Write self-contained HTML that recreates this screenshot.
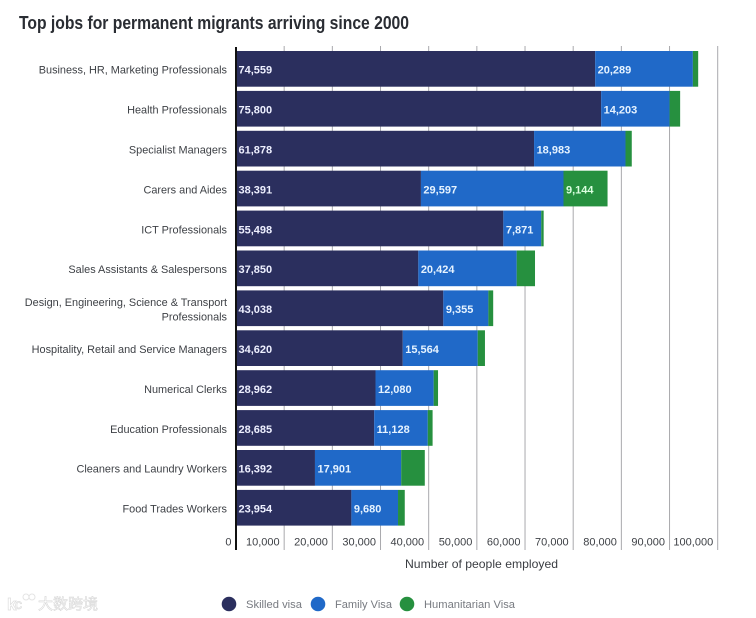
<!DOCTYPE html>
<html lang="en">
<head>
<meta charset="utf-8">
<title>Top jobs for permanent migrants arriving since 2000</title>
<style>
html,body{margin:0;padding:0;background:#fff;}
body{width:756px;height:618px;overflow:hidden;}
svg{display:block;font-family:"Liberation Sans","Noto Sans CJK SC",sans-serif;}
</style>
</head>
<body>
<svg id="chart" width="756" height="618" viewBox="0 0 756 618" xmlns="http://www.w3.org/2000/svg">
  <rect x="0" y="0" width="756" height="618" fill="#ffffff"/>
  <text x="19" y="29" font-size="18" font-weight="700" fill="#2a2d33" textLength="390" lengthAdjust="spacingAndGlyphs">Top jobs for permanent migrants arriving since 2000</text>
  <g id="grid"></g>
  <g id="bars"></g>
  <g id="cats"></g>
  <g id="ticks"></g>
  <line x1="236" y1="47" x2="236" y2="550" stroke="#111111" stroke-width="2"/>
  <text x="405" y="568" font-size="12" fill="#3a3d42" textLength="153" lengthAdjust="spacingAndGlyphs">Number of people employed</text>
  <g>
    <g>
      <circle cx="229" cy="604" r="7.3" fill="#2b2f5e"/>
      <text x="246" y="608" font-size="11" fill="#777a80" textLength="56" lengthAdjust="spacingAndGlyphs">Skilled visa</text>
    </g>
    <g>
      <circle cx="318" cy="604" r="7.3" fill="#2069c8"/>
      <text x="335" y="608" font-size="11" fill="#777a80" textLength="57" lengthAdjust="spacingAndGlyphs">Family Visa</text>
    </g>
    <g>
      <circle cx="407" cy="604" r="7.3" fill="#26903f"/>
      <text x="424" y="608" font-size="11" fill="#777a80" textLength="91" lengthAdjust="spacingAndGlyphs">Humanitarian Visa</text>
    </g>
  </g>
  <g>
    <circle cx="26" cy="597" r="3" fill="none" stroke="#e4e4e4" stroke-width="1"/>
    <circle cx="32" cy="597" r="3" fill="none" stroke="#e4e4e4" stroke-width="1"/>
    <text x="7" y="610" font-size="17" font-weight="700" fill="#ffffff" stroke="#dddddd" stroke-width="0.7">k</text>
    <text x="15" y="609" font-size="14" fill="#ffffff" stroke="#dddddd" stroke-width="0.7">c</text>
    <text x="38" y="609" font-size="15" fill="#ffffff" stroke="#d8d8d8" stroke-width="0.6" style="font-family:'Noto Sans CJK SC',sans-serif">大数跨境</text>
  </g>
</svg>
<script>
const categories = [
  ["Business, HR, Marketing Professionals"],
  ["Health Professionals"],
  ["Specialist Managers"],
  ["Carers and Aides"],
  ["ICT Professionals"],
  ["Sales Assistants & Salespersons"],
  ["Design, Engineering, Science & Transport", "Professionals"],
  ["Hospitality, Retail and Service Managers"],
  ["Numerical Clerks"],
  ["Education Professionals"],
  ["Cleaners and Laundry Workers"],
  ["Food Trades Workers"]
];
const skilled = [74559, 75800, 61878, 38391, 55498, 37850, 43038, 34620, 28962, 28685, 16392, 23954];
const family = [20289, 14203, 18983, 29597, 7871, 20424, 9355, 15564, 12080, 11128, 17901, 9680];
const humanitarian = [1100, 2200, 1300, 9144, 500, 3800, 1000, 1500, 900, 1000, 4900, 1400];
const tickValues = [0, 10000, 20000, 30000, 40000, 50000, 60000, 70000, 80000, 90000, 100000];

const NS = 'http://www.w3.org/2000/svg';
const xScale = v => 236 + v * 0.004817;
const rowTop = i => 51 + i * 39.9;
const barH = 35.7;
const fmt = v => v.toLocaleString('en-US');

function mk(tag, attrs, parent) {
  const el = document.createElementNS(NS, tag);
  for (const k in attrs) el.setAttribute(k, attrs[k]);
  parent.appendChild(el);
  return el;
}

const gridG = document.getElementById('grid');
const tickG = document.getElementById('ticks');
tickValues.forEach(function (t) {
  if (t > 0) {
    const gl = mk('line', {x1: xScale(t), x2: xScale(t), y1: 46, y2: 550, stroke: '#a9a9ad', 'stroke-width': 1}, gridG);
    
    
  }
  const lab = mk('text', {x: xScale(t) - 4.5, y: 545.5, 'font-size': 11, 'text-anchor': 'end', fill: '#3e4146'}, tickG);
  
  
  lab.textContent = fmt(t);
});

const barsG = document.getElementById('bars');
const catsG = document.getElementById('cats');
const seriesList = [
  {name: 'skilled', values: skilled, color: '#2b2f5e', text: '#eef0ff'},
  {name: 'family', values: family, color: '#2069c8', text: '#e6f3ff'},
  {name: 'humanitarian', values: humanitarian, color: '#26903f', text: '#dcffe0'}
];

categories.forEach(function (lines, i) {
  const top = rowTop(i);
  const mid = top + barH / 2;
  let acc = 0;
  seriesList.forEach(function (s) {
    const v = s.values[i];
    const x0 = xScale(acc);
    const x1 = xScale(acc + v);
    const r = mk('rect', {x: x0, y: top, width: x1 - x0, height: barH, fill: s.color}, barsG);
    
    
    if (x1 - x0 > 30) {
      const t = mk('text', {x: x0 + 2.5, y: mid + 4.8, 'font-size': 11, 'font-weight': 700, fill: s.text}, barsG);
      
      
      t.textContent = fmt(v);
    }
    acc += v;
  });
  lines.forEach(function (line, j) {
    const y = mid + 4.8 + (j - (lines.length - 1) / 2) * 14.5;
    const c = mk('text', {x: 227, y: y, 'font-size': 10.9, 'text-anchor': 'end', fill: '#3e4146'}, catsG);
    
    
    c.textContent = line;
  });
});
</script>
</body>
</html>
